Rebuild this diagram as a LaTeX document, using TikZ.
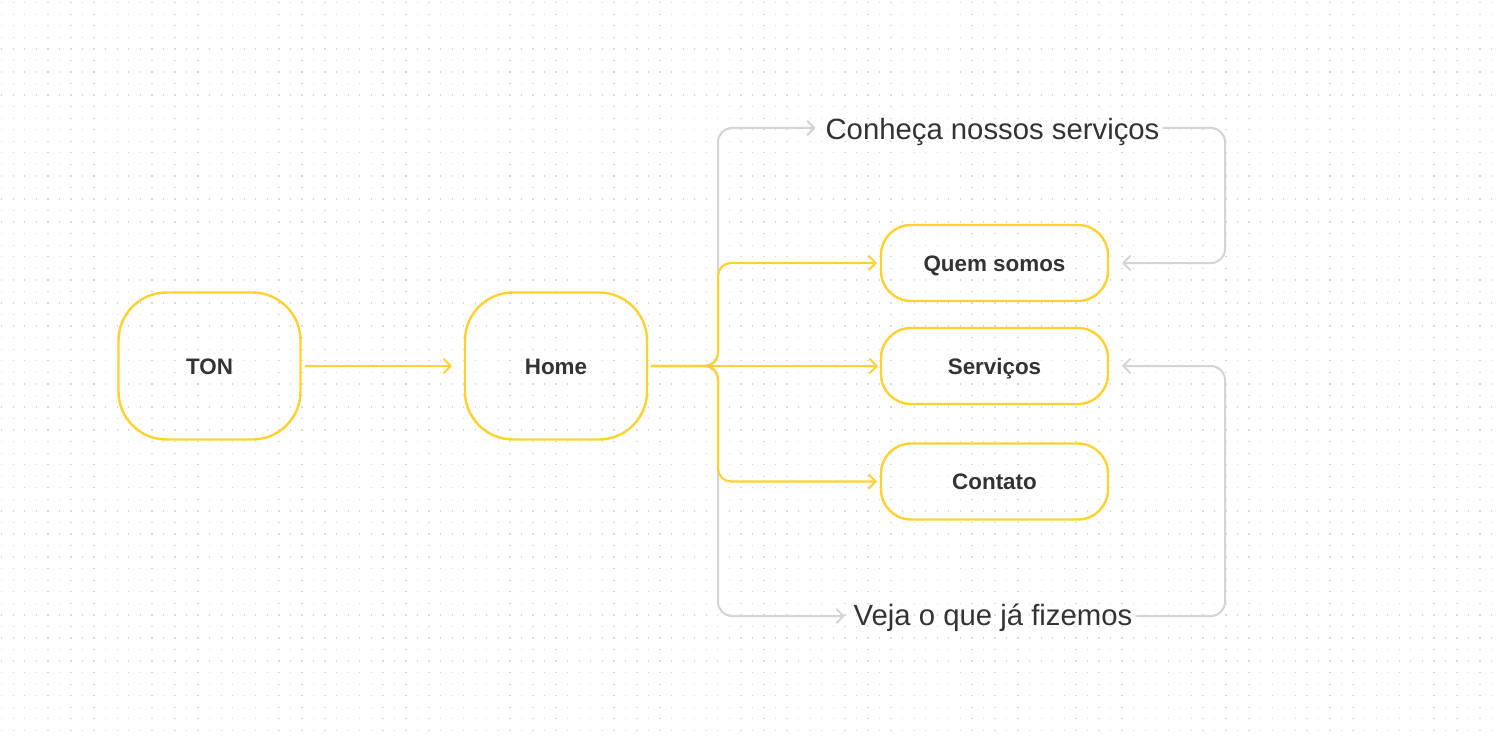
\documentclass[tikz,border=0pt]{standalone}
\usepackage{fontspec}
\setmainfont{Liberation Sans}
\usetikzlibrary{arrows.meta}
\definecolor{ylw}{HTML}{FFD232}
\definecolor{lgr}{HTML}{D4D4D4}
\definecolor{txt}{HTML}{333333}
\definecolor{dotc}{HTML}{D9D9D9}
\tikzset{
  bigbox/.style={draw=ylw, line width=2.4pt, rounded corners=48pt, minimum width=182pt, minimum height=147pt, inner sep=0pt, font=\fontsize{22.4}{24}\selectfont\bfseries, text=txt, text height=16pt, text depth=0pt},
  pagebox/.style={draw=ylw, line width=2.4pt, rounded corners=30pt, minimum width=227pt, minimum height=76pt, inner sep=0pt, font=\fontsize{22.4}{24}\selectfont\bfseries, text=txt, text height=16pt, text depth=0pt},
  biglabel/.style={inner sep=0pt, anchor=base, font=\fontsize{29.3}{32}\selectfont, text=txt},
  tip/.style={-{Straight Barb[length=7pt,width=14pt,round]}},
  ylink/.style={draw=ylw, line width=2.1pt, tip, rounded corners=13pt},
  glink/.style={draw=lgr, line width=2pt, rounded corners=14pt},
  dotrow/.style={draw=dotc, line width=1.3pt, dash pattern=on 1.3pt off 10.25pt}
}
\begin{document}
\begin{tikzpicture}[x=1pt,y=-1pt]
\useasboundingbox (0,0) rectangle (1502,738);
\fill[white] (0,0) rectangle (1502,738);
\foreach \j in {0,...,63} {
  \draw[dotrow] (1.05,{2.7+\j*11.55}) -- (1502,{2.7+\j*11.55});
}
% nodes
\node[bigbox] (ton) at (209.5,366) {TON};
\node[bigbox] (home) at (556,366) {Home};
\node[pagebox] (quem) at (994.5,263) {Quem somos};
\node[pagebox] (serv) at (994.5,366) {Serviços};
\node[pagebox] (cont) at (994.5,481.5) {Contato};
\node[biglabel] (conh) at (992.5,139.3) {Conheça nossos serviços};
\node[biglabel] (veja) at (993,625) {Veja o que já fizemos};
% helper coordinates
\coordinate (gtop) at (718,128);
\coordinate (gbot) at (718,616);
\coordinate (rtop) at (1225,128);
\coordinate (rbot) at (1225,616);
% gray links
\draw[glink, tip, shorten <=3pt, shorten >=10pt] (home.east) -| (gtop) -- (conh.west |- gtop);
\draw[glink, tip, shorten <=3pt, shorten >=9pt] (home.east) -| (gbot) -- (veja.west |- gbot);
\draw[glink, tip, shorten <=3pt, shorten >=13pt] (conh.east |- rtop) -- (rtop) |- (quem.east);
\draw[glink, tip, shorten <=4pt, shorten >=13pt] (veja.east |- rbot) -- (rbot) |- (serv.east);
% yellow links
\draw[ylink, shorten <=3pt, shorten >=12pt] (ton) -- (home);
\draw[ylink, shorten <=3pt, shorten >=3pt] (home.east) -| (718,263) -- (quem.west);
\draw[ylink, shorten <=3pt, shorten >=2pt] (home.east) -- (serv.west);
\draw[ylink, shorten <=3pt, shorten >=3pt] (home.east) -| (718,481.5) -- (cont.west);
\end{tikzpicture}
\end{document}
